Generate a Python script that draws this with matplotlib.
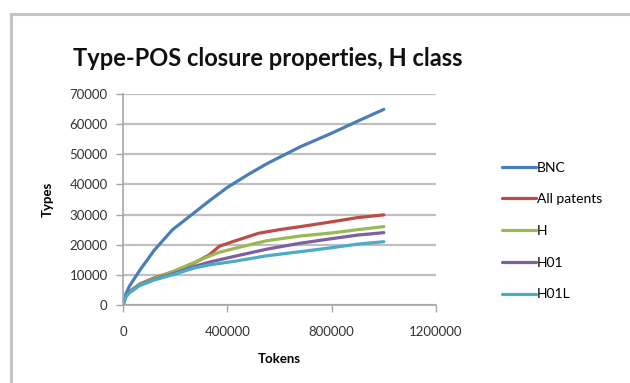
import matplotlib.pyplot as plt
from matplotlib.patches import Rectangle

# Token counts (x) and cumulative type counts (y) for each corpus
bnc_x = [0, 10000, 25000, 65000, 120000, 190000, 270000, 330000, 400000, 480000, 550000, 680000, 800000, 900000, 1000000]
bnc_y = [0, 3500, 6300, 11600, 18200, 25000, 30400, 34500, 39000, 43300, 46800, 52500, 57000, 61000, 64900]

pat_x = [0, 10000, 25000, 65000, 120000, 190000, 270000, 330000, 370000, 420000, 520000, 600000, 680000, 800000, 900000, 1000000]
pat_y = [0, 2800, 4500, 7000, 9000, 11000, 13800, 16600, 19500, 21000, 23800, 25000, 26000, 27600, 29000, 29900]

h_x = [0, 10000, 25000, 65000, 120000, 190000, 270000, 330000, 370000, 420000, 550000, 680000, 800000, 900000, 1000000]
h_y = [0, 2700, 4300, 6800, 8800, 11000, 14000, 16200, 17500, 18600, 21300, 22900, 23900, 25000, 26000]

h01_x = [0, 10000, 25000, 65000, 120000, 190000, 270000, 330000, 420000, 550000, 680000, 800000, 900000, 1000000]
h01_y = [0, 2700, 4200, 6600, 8500, 10300, 12700, 14200, 16000, 18500, 20500, 22000, 23200, 24000]

h01l_x = [0, 10000, 25000, 65000, 120000, 190000, 270000, 330000, 420000, 550000, 680000, 800000, 900000, 1000000]
h01l_y = [0, 2600, 4100, 6500, 8300, 10000, 12200, 13300, 14400, 16300, 17700, 19000, 20200, 21000]

series = [
    ("BNC", bnc_x, bnc_y, "#4A7EBB"),
    ("All patents", pat_x, pat_y, "#BE4B48"),
    ("H", h_x, h_y, "#98B954"),
    ("H01", h01_x, h01_y, "#7D60A0"),
    ("H01L", h01l_x, h01l_y, "#4BACC6"),
]

plt.rcParams['font.family'] = ['Lato', 'DejaVu Sans']

fig = plt.figure(figsize=(6.3, 3.83), dpi=100)
fig.patch.set_facecolor("white")

# chart frame (top and left edges visible)
fig.patches.append(Rectangle((11/630, -0.1), 1.0, 1 - 14/383 + 0.1, transform=fig.transFigure,
                             fill=False, edgecolor="#C4C4C4", linewidth=2.2))

ax = fig.add_axes([123/630, 78/383, 313/630, 211/383])

for name, xs, ys, color in series:
    ax.plot(xs, ys, color=color, linewidth=2.3, label=name, solid_capstyle="round")

ax.set_xlim(0, 1200000)
ax.set_ylim(0, 70000)
ax.set_xticks([0, 400000, 800000, 1200000])
ax.set_yticks(range(0, 70001, 10000))
ax.set_xticklabels(["0", "400000", "800000", "1200000"])
ax.yaxis.grid(True, color="#BFBFBF", linewidth=1.6)
ax.set_axisbelow(True)

for side in ["top", "right"]:
    ax.spines[side].set_visible(False)
for side in ["left", "bottom"]:
    ax.spines[side].set_color("#A6A6A6")
    ax.spines[side].set_linewidth(1.2)

ax.tick_params(axis="y", direction="out", length=5, width=1.0, color="#A6A6A6",
               labelsize=9.5, labelcolor="#333333", pad=6)
ax.tick_params(axis="x", direction="out", length=5, width=1.0, color="#A6A6A6",
               labelsize=9.5, labelcolor="#333333", pad=10)

ax.set_ylabel("Types", fontsize=9.5, fontweight="bold", labelpad=11)
ax.set_xlabel("Tokens", fontsize=9.5, fontweight="bold", labelpad=11)

fig.text(268/630, 1 - 58/383, "Type-POS closure properties, H class", ha="center", va="center",
         fontsize=17, fontweight="bold", color="#111111")

fig.legend(loc="upper left", bbox_to_anchor=(496/630, 1 - 156/383), frameon=False,
           fontsize=10, handlelength=2.45, handletextpad=0.1, labelspacing=1.42,
           borderaxespad=0)

fig.savefig("out.png", dpi=100, facecolor="white")
